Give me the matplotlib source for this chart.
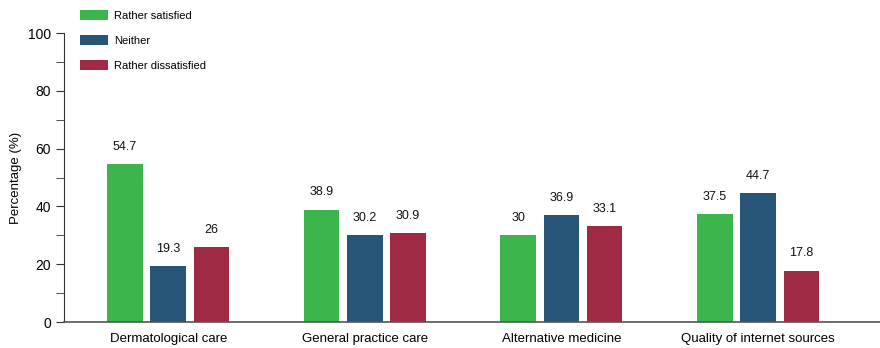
import numpy as np
import matplotlib
matplotlib.use("Agg")
import matplotlib.pyplot as plt
from matplotlib.ticker import MultipleLocator

plt.rcParams['font.family'] = ['Liberation Sans', 'DejaVu Sans']

# Data
categories = ["Dermatological care", "General practice care", "Alternative medicine", "Quality of internet sources"]
series = ["Rather satisfied", "Neither", "Rather dissatisfied"]
satisfied = [54.7, 38.9, 30, 37.5]
neither = [19.3, 30.2, 36.9, 44.7]
dissatisfied = [26, 30.9, 33.1, 17.8]
labels_sat = ["54.7", "38.9", "30", "37.5"]
labels_nei = ["19.3", "30.2", "36.9", "44.7"]
labels_dis = ["26", "30.9", "33.1", "17.8"]

colors = ["#3cb64c", "#265578", "#a02944"]

fig = plt.figure(figsize=(8.8, 3.48), dpi=100)
ax = fig.add_axes([0.0727, 0.0747, 0.9273, 0.8303])

x = np.arange(len(categories))
width = 0.18
offset = 0.22
all_vals = [satisfied, neither, dissatisfied]
all_labels = [labels_sat, labels_nei, labels_dis]
handles = []
for i, (vals, labs, col, name) in enumerate(zip(all_vals, all_labels, colors, series)):
    pos = x + (i - 1) * offset
    b = ax.bar(pos, vals, width, color=col, label=name)
    handles.append(b)
    for p, v, t in zip(pos, vals, labs):
        ax.annotate(t, (p, v), xytext=(0, 8), textcoords="offset points",
                    ha="center", va="bottom", fontsize=9, color="#111111")

ax.set_xlim(-0.53, 3.62)
ax.set_ylim(0, 100)
ax.yaxis.set_major_locator(MultipleLocator(20))
ax.yaxis.set_minor_locator(MultipleLocator(10))
ax.set_xticks(x)
ax.set_xticklabels(categories, fontsize=9.5)
ax.tick_params(axis='x', length=0, pad=8)
ax.tick_params(axis='y', which='major', length=6, labelsize=10, color="#333333")
ax.tick_params(axis='y', which='minor', length=6, color="#333333")
ax.set_ylabel("Percentage (%)", fontsize=9.5)

for s in ["top", "right"]:
    ax.spines[s].set_visible(False)
ax.spines["left"].set_color("#333333")
ax.spines["bottom"].set_color("#555555")
ax.spines["bottom"].set_linewidth(1.2)

leg = fig.legend(handles=handles, labels=series, loc="upper left",
                 bbox_to_anchor=(0.08, 1.0), frameon=False, fontsize=8,
                 handlelength=2.5, handleheight=1.0, labelspacing=1.3,
                 handletextpad=0.55)

fig.savefig("out.png", dpi=100)
